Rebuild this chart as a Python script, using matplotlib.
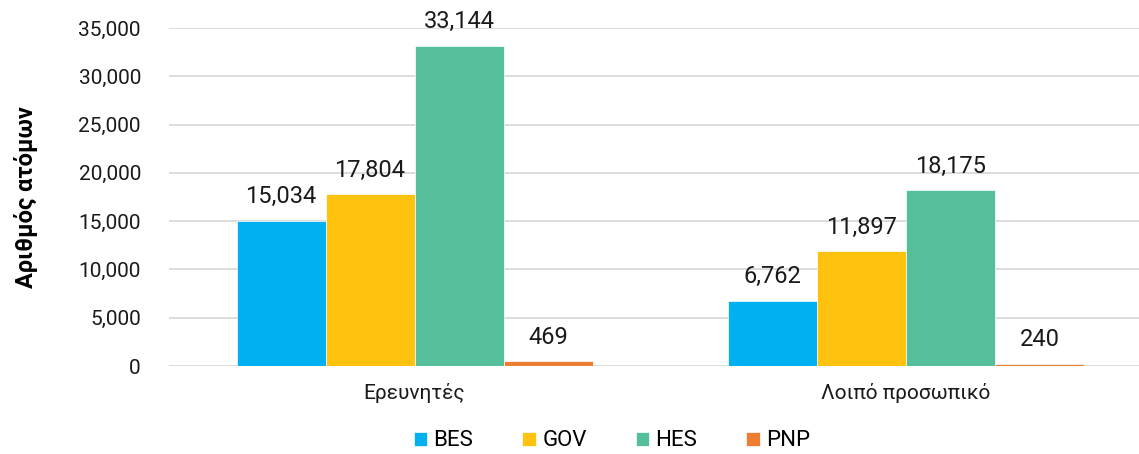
import matplotlib.pyplot as plt
import numpy as np

plt.rcParams['font.family'] = ['Roboto', 'DejaVu Sans']

categories = ["Ερευνητές", "Λοιπό προσωπικό"]
series = ["BES", "GOV", "HES", "PNP"]
values = {
    "BES": [15034, 6762],
    "GOV": [17804, 11897],
    "HES": [33144, 18175],
    "PNP": [469, 240],
}
colors = ["#00B0F0", "#FFC20E", "#55BF9B", "#ED7D31"]

fig = plt.figure(figsize=(11.39, 4.54), dpi=100)
ax = fig.add_axes([168.75 / 1139, 88 / 454, 1 - 168.75 / 1139, 338 / 454])

x = np.arange(len(categories))
w = 89 / 491.5
for i, s in enumerate(series):
    pos = x + (i - 1.5) * w
    bars = ax.bar(pos, values[s], w, color=colors[i], label=s, zorder=3,
                  edgecolor="white", linewidth=0.5)
    for b, v in zip(bars, values[s]):
        ax.annotate(f"{v:,}", (b.get_x() + b.get_width() / 2, v),
                    xytext=(0, 9), textcoords="offset points",
                    ha="center", va="bottom", fontsize=17, color="#1a1a1a")

ax.set_ylim(0, 35000)
ax.set_xlim(-0.5, 1.5 - (1151.75 - 1139) / 491.5)
ax.set_yticks(np.arange(0, 35001, 5000))
ax.set_yticklabels([f"{t:,}" for t in range(0, 35001, 5000)], fontsize=15, color="#1a1a1a")
ax.set_xticks(x)
ax.set_xticklabels(categories, fontsize=15, color="#1a1a1a")
ax.tick_params(axis="both", length=0)
ax.tick_params(axis="y", pad=20)
ax.tick_params(axis="x", pad=12)
ax.grid(axis="y", color="#D9D9D9", linewidth=1.3, zorder=0)
for sp in ax.spines.values():
    sp.set_visible(False)

ax.set_ylabel("Αριθμός ατόμων", fontsize=17, fontweight="bold")
ax.yaxis.set_label_coords(-0.135, 0.5)

fig.legend(loc="center", bbox_to_anchor=(612 / 1139, 1 - 441 / 454), ncol=4,
           frameon=False, fontsize=16, handlelength=0.6, handleheight=0.6,
           columnspacing=2.2, handletextpad=0.3)

fig.savefig("out.png", dpi=100)
